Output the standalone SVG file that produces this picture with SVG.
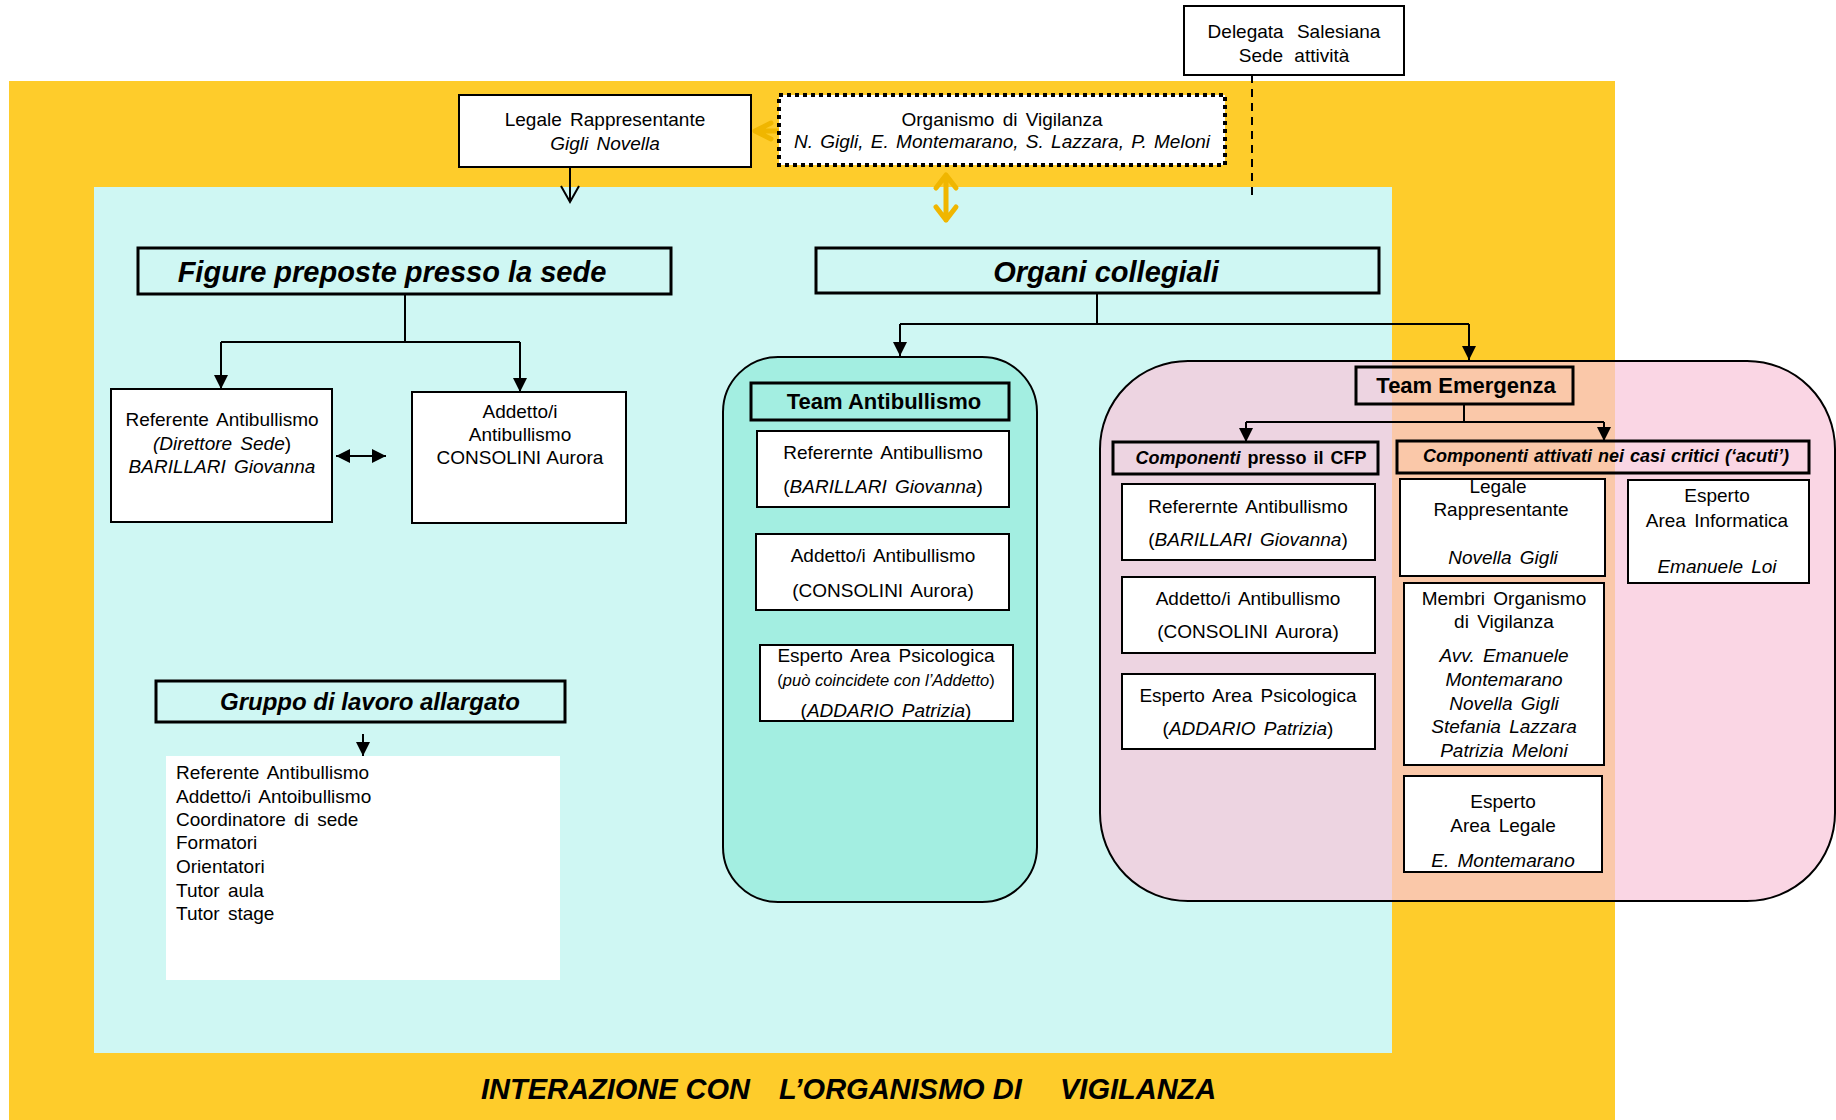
<svg xmlns="http://www.w3.org/2000/svg" width="1836" height="1120" viewBox="0 0 1836 1120">
<defs>
<style>
text{font-family:"Liberation Sans",Arial,sans-serif;font-size:19px;fill:#000;word-spacing:3px}
.c{text-anchor:middle}
.i{font-style:italic}
.b{font-weight:bold}
.bi{font-weight:bold;font-style:italic}
.box{fill:#fff;stroke:#000;stroke-width:2}
.hdr{fill:none;stroke:#000;stroke-width:3}
.ln{fill:none;stroke:#000;stroke-width:2}
.gold{fill:none;stroke:#F0B600;stroke-width:5;stroke-linecap:round;stroke-linejoin:round}
</style>
<marker id="ah" viewBox="0 0 10 10" refX="10" refY="5" markerWidth="14" markerHeight="14" markerUnits="userSpaceOnUse" orient="auto-start-reverse">
<path d="M0,0 L10,5 L0,10 z" fill="#000"/>
</marker>
</defs>

<!-- backgrounds -->
<rect id="bg-yellow" x="9" y="81" width="1606" height="1039" fill="#FECC2B"/>
<rect id="bg-cyan" x="94" y="187" width="1298" height="866" fill="#CFF7F3"/>
<text class="bi" x="481" y="1099" style="font-size:29px;word-spacing:0">INTERAZIONE CON<tspan x="779">L’ORGANISMO DI</tspan><tspan x="1060">VIGILANZA</tspan></text>

<!-- containers -->
<g id="team-antibullismo-container">
<rect x="723" y="357" width="314" height="545" rx="55" fill="#A3EEE1" stroke="#000" stroke-width="2"/>
</g>
<g id="team-emergenza-container">
<rect x="1100" y="361" width="735" height="540" rx="88" fill="rgb(248,198,218)" fill-opacity="0.72" stroke="#000" stroke-width="2"/>
</g>

<!-- connectors -->
<g id="connectors">
<path class="ln" d="M570,167 V202 M561,186 L570,202 L579,186"/>
<path class="gold" d="M779,131 H756 M771,123 L755,131 L771,139"/>
<path class="gold" d="M946,176 V220 M936,188 L946,175 L956,188 M936,207 L946,220 L956,207"/>
<path class="ln" d="M1252,75 V197" stroke-dasharray="8 6"/>
<path class="ln" d="M405,294 V342 M221,342 H520"/>
<path class="ln" d="M221,342 V389" marker-end="url(#ah)"/>
<path class="ln" d="M520,342 V392" marker-end="url(#ah)"/>
<path class="ln" d="M336,456 H386" marker-start="url(#ah)" marker-end="url(#ah)"/>
<path class="ln" d="M1097,293 V324 M900,324 H1469"/>
<path class="ln" d="M900,324 V356" marker-end="url(#ah)"/>
<path class="ln" d="M1469,324 V360" marker-end="url(#ah)"/>
<path class="ln" d="M1464,404 V422 M1246,422 H1604"/>
<path class="ln" d="M1246,422 V442" marker-end="url(#ah)"/>
<path class="ln" d="M1604,422 V441" marker-end="url(#ah)"/>
<path class="ln" d="M363,734 V756" marker-end="url(#ah)"/>
</g>

<!-- top nodes -->
<g id="delegata">
<rect class="box" x="1184" y="6" width="220" height="69"/>
<text class="c" x="1294" y="38" style="word-spacing:8px">Delegata Salesiana</text>
<text class="c" x="1294" y="62" style="word-spacing:6px">Sede attività</text>
</g>
<g id="legale-rappresentante">
<rect class="box" x="459" y="95" width="292" height="72"/>
<text class="c" x="605" y="126">Legale Rappresentante</text>
<text class="c i" x="605" y="150">Gigli Novella</text>
</g>
<g id="organismo-vigilanza">
<rect x="779" y="95" width="446" height="70" fill="#fff" stroke="#000" stroke-width="4" stroke-dasharray="4 4"/>
<text class="c" x="1002" y="126">Organismo di Vigilanza</text>
<text class="c i" x="1002" y="148" style="word-spacing:2px">N. Gigli, E. Montemarano, S. Lazzara, P. Meloni</text>
</g>

<!-- left side -->
<g id="figure-preposte">
<rect class="hdr" x="138" y="248" width="533" height="46"/>
<text class="bi c" x="392" y="282" style="font-size:29px;word-spacing:0">Figure preposte presso la sede</text>
</g>
<g id="referente-antibullismo">
<rect class="box" x="111" y="389" width="221" height="133"/>
<text class="c" x="222" y="426">Referente Antibullismo</text>
<text class="c" x="222" y="450"><tspan class="i">(Direttore Sede</tspan>)</text>
<text class="c i" x="222" y="473">BARILLARI Giovanna</text>
</g>
<g id="addetto-antibullismo">
<rect class="box" x="412" y="392" width="214" height="131"/>
<text class="c" x="520" y="418">Addetto/i</text>
<text class="c" x="520" y="441">Antibullismo</text>
<text class="c" x="520" y="464" style="word-spacing:1px">CONSOLINI Aurora</text>
</g>
<g id="gruppo-lavoro">
<rect class="hdr" x="156" y="681" width="409" height="41"/>
<text class="bi c" x="370" y="710" style="font-size:24px;word-spacing:0">Gruppo di lavoro allargato</text>
</g>
<g id="gruppo-lista">
<rect x="166" y="756" width="394" height="224" fill="#fff"/>
<text x="176" y="779">Referente Antibullismo</text>
<text x="176" y="803">Addetto/i Antoibullismo</text>
<text x="176" y="826">Coordinatore di sede</text>
<text x="176" y="849">Formatori</text>
<text x="176" y="873">Orientatori</text>
<text x="176" y="897">Tutor aula</text>
<text x="176" y="920">Tutor stage</text>
</g>

<!-- organi collegiali -->
<g id="organi-collegiali">
<rect class="hdr" x="816" y="248" width="563" height="45"/>
<text class="bi c" x="1106" y="282" style="font-size:29px;word-spacing:0">Organi collegiali</text>
</g>

<!-- team antibullismo -->
<g id="ta-title">
<rect class="hdr" x="751" y="383" width="258" height="37"/>
<text class="b c" x="884" y="409" style="font-size:22px;word-spacing:0">Team Antibullismo</text>
</g>
<g id="ta-referente">
<rect class="box" x="757" y="431" width="252" height="76"/>
<text class="c" x="883" y="459">Referernte Antibullismo</text>
<text class="c" x="883" y="493">(<tspan class="i">BARILLARI Giovanna</tspan>)</text>
</g>
<g id="ta-addetto">
<rect class="box" x="756" y="534" width="253" height="76"/>
<text class="c" x="883" y="562">Addetto/i Antibullismo</text>
<text class="c" x="883" y="597">(CONSOLINI Aurora)</text>
</g>
<g id="ta-esperto">
<rect class="box" x="760" y="645" width="253" height="76"/>
<text class="c" x="886" y="662">Esperto Area Psicologica</text>
<text class="c" x="886" y="686" style="font-size:16.5px;word-spacing:0">(<tspan class="i">può coincidete con l’Addetto</tspan>)</text>
<text class="c" x="886" y="717">(<tspan class="i">ADDARIO Patrizia</tspan>)</text>
</g>

<!-- team emergenza -->
<g id="te-title">
<rect class="hdr" x="1356" y="367" width="217" height="37"/>
<text class="b c" x="1466" y="393" style="font-size:22px;word-spacing:0">Team Emergenza</text>
</g>
<g id="te-cfp">
<rect class="hdr" x="1113" y="442" width="265" height="32"/>
<text class="b c" x="1251" y="464" style="font-size:18px;word-spacing:2px"><tspan class="i">Componenti</tspan> presso il CFP</text>
</g>
<g id="te-critici">
<rect class="hdr" x="1397" y="441" width="412" height="32"/>
<text class="bi c" x="1606" y="462" style="font-size:18px;word-spacing:1px">Componenti attivati nei casi critici (‘acuti’)</text>
</g>
<g id="te-referente">
<rect class="box" x="1122" y="484" width="253" height="76"/>
<text class="c" x="1248" y="513">Referernte Antibullismo</text>
<text class="c" x="1248" y="546">(<tspan class="i">BARILLARI Giovanna</tspan>)</text>
</g>
<g id="te-addetto">
<rect class="box" x="1122" y="577" width="253" height="76"/>
<text class="c" x="1248" y="605">Addetto/i Antibullismo</text>
<text class="c" x="1248" y="638">(CONSOLINI Aurora)</text>
</g>
<g id="te-esperto-psico">
<rect class="box" x="1122" y="674" width="253" height="75"/>
<text class="c" x="1248" y="702">Esperto Area Psicologica</text>
<text class="c" x="1248" y="735">(<tspan class="i">ADDARIO Patrizia</tspan>)</text>
</g>
<g id="te-legale">
<rect class="box" x="1400" y="479" width="205" height="97"/>
<text class="c" x="1498" y="493">Legale</text>
<text class="c" x="1501" y="516">Rappresentante</text>
<text class="c i" x="1503" y="564">Novella Gigli</text>
</g>
<g id="te-membri-odv">
<rect class="box" x="1404" y="583" width="200" height="182"/>
<text class="c" x="1504" y="605">Membri Organismo</text>
<text class="c" x="1504" y="628">di Vigilanza</text>
<text class="c i" x="1504" y="662">Avv. Emanuele</text>
<text class="c i" x="1504" y="686">Montemarano</text>
<text class="c i" x="1504" y="710">Novella Gigli</text>
<text class="c i" x="1504" y="733">Stefania Lazzara</text>
<text class="c i" x="1504" y="757">Patrizia Meloni</text>
</g>
<g id="te-legale-esperto">
<rect class="box" x="1404" y="776" width="198" height="96"/>
<text class="c" x="1503" y="808">Esperto</text>
<text class="c" x="1503" y="832">Area Legale</text>
<text class="c i" x="1503" y="867">E. Montemarano</text>
</g>
<g id="te-informatica">
<rect class="box" x="1628" y="480" width="181" height="103"/>
<text class="c" x="1717" y="502">Esperto</text>
<text class="c" x="1717" y="527">Area Informatica</text>
<text class="c i" x="1717" y="573">Emanuele Loi</text>
</g>
</svg>
